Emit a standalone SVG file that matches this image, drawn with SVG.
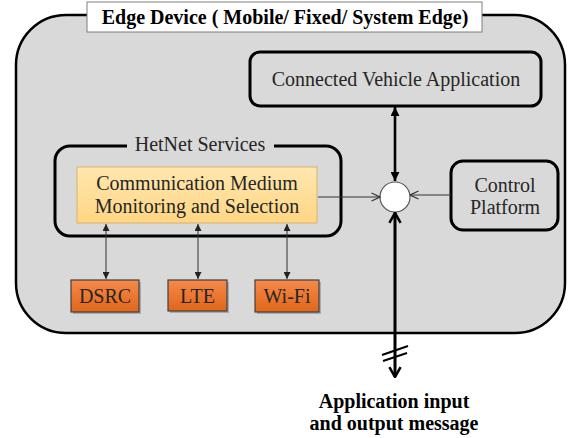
<svg xmlns="http://www.w3.org/2000/svg" width="571" height="438" viewBox="0 0 571 438">
<style>
  text { font-family: "Liberation Serif", "DejaVu Serif", serif; }
  .t { font-size: 20px; fill: #262626; text-anchor: middle; }
  .b { font-size: 20px; font-weight: bold; fill: #000; text-anchor: middle; }
  .box { fill: none; stroke: #000; stroke-width: 3; }
  .radio { fill: url(#og); stroke: #404040; stroke-width: 1.2; }
  .shadow { fill: #8a8a8a; opacity: 0.6; }
  .thin { stroke: #333; stroke-width: 1; fill: none; }
  .thick { stroke: #000; stroke-width: 2.6; fill: none; }
</style>
<defs>
  <linearGradient id="og" x1="0" y1="0" x2="0" y2="1">
    <stop offset="0" stop-color="#F58A4A"/>
    <stop offset="1" stop-color="#E0661A"/>
  </linearGradient>
  <linearGradient id="yg" x1="0" y1="0" x2="0" y2="1">
    <stop offset="0" stop-color="#FFE7B0"/>
    <stop offset="1" stop-color="#FFD683"/>
  </linearGradient>
  <marker id="sm" viewBox="0 0 10 10" refX="10" refY="5" markerWidth="7" markerHeight="7" markerUnits="userSpaceOnUse" orient="auto-start-reverse">
    <path d="M0,0 L10,5 L0,10 z" fill="#222"/>
  </marker>
  <marker id="big" viewBox="0 0 10 10" refX="10" refY="5" markerWidth="9" markerHeight="9" markerUnits="userSpaceOnUse" orient="auto-start-reverse">
    <path d="M0,0 L10,5 L0,10 z" fill="#000"/>
  </marker>
  <marker id="open" viewBox="0 0 10 10" refX="9.5" refY="5" markerWidth="10" markerHeight="10" markerUnits="userSpaceOnUse" orient="auto">
    <path d="M1,1 L9.5,5 L1,9" fill="none" stroke="#333" stroke-width="1.2"/>
  </marker>
  <marker id="openbig" viewBox="0 0 10 10" refX="9" refY="5" markerWidth="14" markerHeight="14" markerUnits="userSpaceOnUse" orient="auto">
    <path d="M2,1 L9,5 L2,9" fill="none" stroke="#000" stroke-width="1.8"/>
  </marker>
</defs>

<g id="edge-device">
  <rect x="16" y="15" width="549" height="318" rx="50" ry="50" fill="#D9D9D9" stroke="#000" stroke-width="2.5"/>
</g>

<g id="title">
  <rect x="87" y="2" width="395" height="30" fill="#fff" stroke="#7f7f7f" stroke-width="1"/>
  <text class="b" x="285" y="24" font-family="Liberation Serif, DejaVu Serif, serif">Edge Device ( Mobile/ Fixed/ System Edge)</text>
</g>

<g id="cva">
  <rect class="box" x="250" y="52" width="291" height="54" rx="10"/>
  <text class="t" x="396" y="86" font-family="Liberation Serif, DejaVu Serif, serif">Connected Vehicle Application</text>
</g>

<g id="hetnet">
  <path class="box" d="M127,146 H70 A15,15 0 0 0 55,161 V221 A15,15 0 0 0 70,236 H326 A15,15 0 0 0 341,221 V161 A15,15 0 0 0 326,146 H274"/>
  <text class="t" x="200" y="151" font-size="19" font-family="Liberation Serif, DejaVu Serif, serif">HetNet Services</text>
</g>

<g id="cmms">
  <rect x="77" y="167" width="240" height="56" fill="url(#yg)" stroke="#D9B36A" stroke-width="1"/>
  <text class="t" x="197" y="190" font-family="Liberation Serif, DejaVu Serif, serif">Communication Medium</text>
  <text class="t" x="197" y="213" font-family="Liberation Serif, DejaVu Serif, serif">Monitoring and Selection</text>
</g>

<g id="control">
  <rect class="box" x="451" y="161" width="107" height="69" rx="12"/>
  <text class="t" x="505" y="192" font-family="Liberation Serif, DejaVu Serif, serif">Control</text>
  <text class="t" x="505" y="214" font-family="Liberation Serif, DejaVu Serif, serif">Platform</text>
</g>

<g id="dsrc">
  <rect class="shadow" x="73" y="282" width="68" height="32"/>
  <rect class="radio" x="71" y="280" width="68" height="32"/>
  <text class="t" x="105" y="303" font-family="Liberation Serif, DejaVu Serif, serif">DSRC</text>
</g>
<g id="lte">
  <rect class="shadow" x="170" y="282" width="59" height="31"/>
  <rect class="radio" x="168" y="280" width="59" height="31"/>
  <text class="t" x="197.5" y="303" font-family="Liberation Serif, DejaVu Serif, serif">LTE</text>
</g>
<g id="wifi">
  <rect class="shadow" x="257" y="282" width="64" height="32"/>
  <rect class="radio" x="255" y="280" width="64" height="32"/>
  <text class="t" x="287" y="303" font-family="Liberation Serif, DejaVu Serif, serif">Wi-Fi</text>
</g>

<g id="junction">
  <circle cx="395" cy="197" r="15" fill="#fff" stroke="#555" stroke-width="1.2"/>
</g>

<g id="connectors">
  <line class="thin" x1="106" y1="224" x2="106" y2="279" marker-start="url(#sm)" marker-end="url(#sm)"/>
  <line class="thin" x1="198" y1="224" x2="198" y2="279" marker-start="url(#sm)" marker-end="url(#sm)"/>
  <line class="thin" x1="287" y1="224" x2="287" y2="279" marker-start="url(#sm)" marker-end="url(#sm)"/>
  <line class="thin" x1="318" y1="197" x2="380" y2="197" marker-end="url(#open)"/>
  <line class="thin" x1="451" y1="195" x2="410" y2="195" marker-end="url(#open)"/>
  <line class="thick" x1="395" y1="107" x2="395" y2="181" marker-start="url(#big)" marker-end="url(#big)"/>
  <line class="thick" x1="395" y1="376" x2="395" y2="213" marker-end="url(#openbig)"/>
  <line class="thick" x1="395" y1="212" x2="395" y2="377" marker-end="url(#openbig)"/>
  <line x1="382" y1="355" x2="408" y2="346" stroke="#000" stroke-width="2"/>
  <line x1="383" y1="361" x2="407" y2="353" stroke="#000" stroke-width="2"/>
</g>

<g id="io-label">
  <text class="b" x="394" y="408" font-family="Liberation Serif, DejaVu Serif, serif">Application input</text>
  <text class="b" x="394" y="430" font-family="Liberation Serif, DejaVu Serif, serif">and output message</text>
</g>
</svg>
